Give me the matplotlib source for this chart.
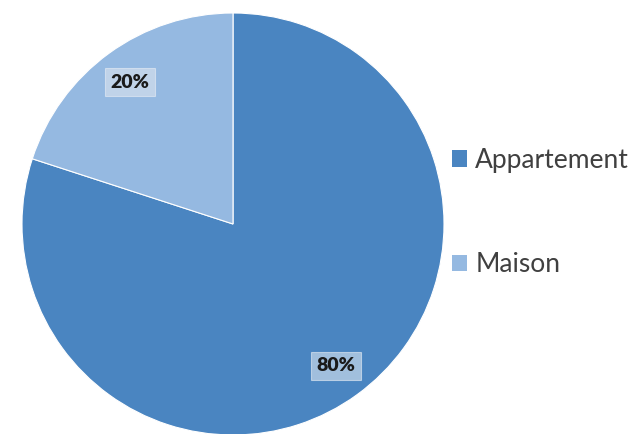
import matplotlib.pyplot as plt
from matplotlib.patches import Patch

labels = ['Appartement', 'Maison']
values = [80, 20]
colors = ['#4a85c1', '#95b9e1']

plt.rcParams['font.family'] = ['Lato', 'DejaVu Sans']

fig = plt.figure(figsize=(6.32, 4.34), dpi=100)
# pie centre ~ (233, 224) px, radius ~211 px
ax = fig.add_axes([22 / 632, (210 - 211) / 434, 422 / 632, 422 / 434])

wedges, texts, autotexts = ax.pie(
    values, colors=colors, startangle=90, counterclock=False,
    autopct='%1.0f%%', pctdistance=0.83,
    wedgeprops=dict(edgecolor='white', linewidth=0.8),
    textprops=dict(fontsize=14, fontweight='heavy', color='#1a1a1a'))
for t in autotexts:
    t.set_bbox(dict(boxstyle='square,pad=0.28', facecolor='#dde6f0', alpha=0.6,
                    edgecolor='#e8eef5', linewidth=0.8))
ax.set_xlim(-1, 1)
ax.set_ylim(-1, 1)

handles = [Patch(facecolor=c, edgecolor='none') for c in colors]
fig.legend(handles, labels, loc='center left', bbox_to_anchor=(0.677, 0.51),
           frameon=False, fontsize=19, labelspacing=3.0, handlelength=0.6,
           handleheight=0.6, handletextpad=0.3, labelcolor='#404040')

fig.savefig('out.png', dpi=100)
